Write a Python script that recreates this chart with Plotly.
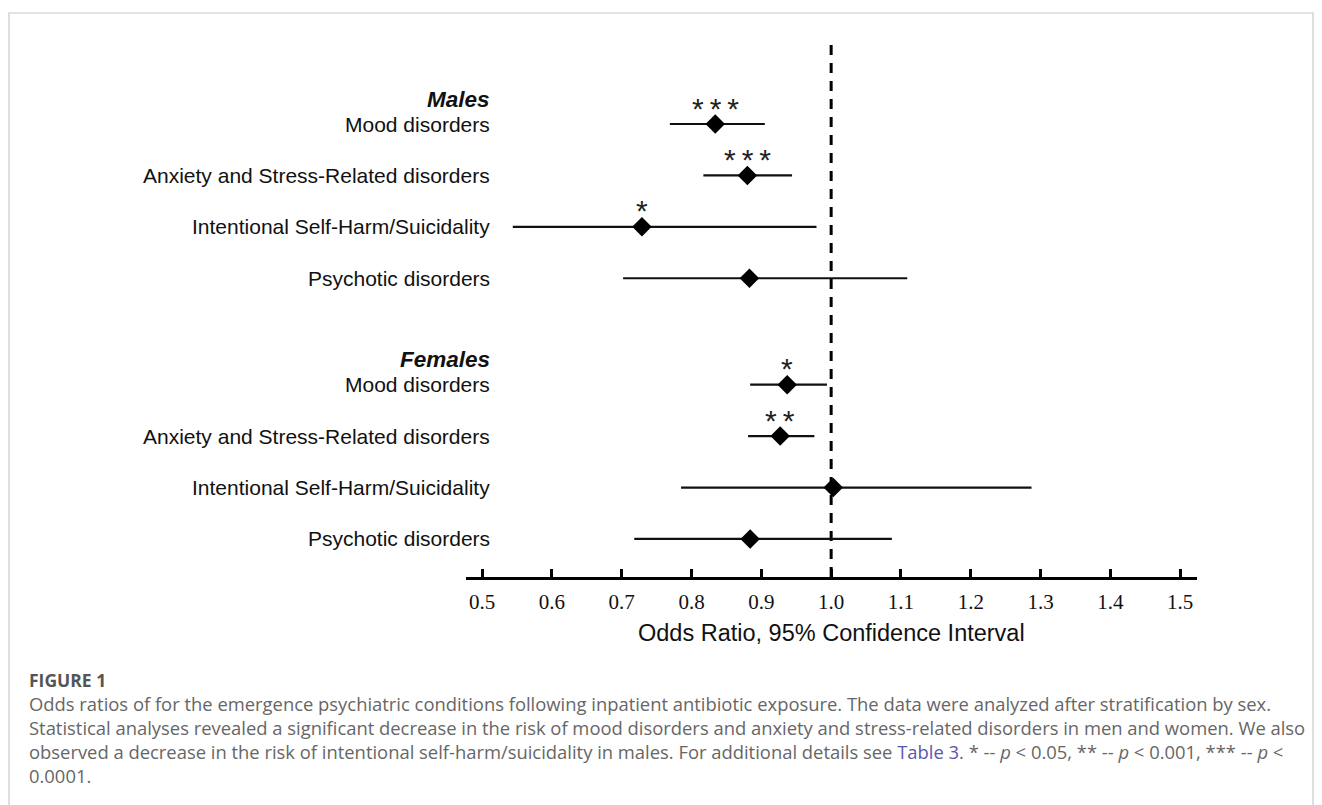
import plotly.graph_objects as go

# ---------------- data ----------------
groups = ["Males", "Females"]
conditions = [
    "Mood disorders",
    "Anxiety and Stress-Related disorders",
    "Intentional Self-Harm/Suicidality",
    "Psychotic disorders",
]
male_or = [0.834, 0.880, 0.729, 0.883]
male_lo = [0.769, 0.817, 0.544, 0.702]
male_hi = [0.905, 0.944, 0.979, 1.109]
male_sig = ["***", "***", "*", ""]

female_or = [0.937, 0.927, 1.003, 0.884]
female_lo = [0.884, 0.881, 0.785, 0.718]
female_hi = [0.994, 0.976, 1.287, 1.087]
female_sig = ["*", "**", "", ""]

tick_vals = [0.5, 0.6, 0.7, 0.8, 0.9, 1.0, 1.1, 1.2, 1.3, 1.4, 1.5]
tick_text = ["0.5", "0.6", "0.7", "0.8", "0.9", "1.0", "1.1", "1.2", "1.3", "1.4", "1.5"]
x_title = "Odds Ratio, 95% Confidence Interval"

caption_head = "FIGURE 1"
caption_lines = [
    "Odds ratios of for the emergence psychiatric conditions following inpatient antibiotic exposure. The data were analyzed after stratification by sex.",
    "Statistical analyses revealed a significant decrease in the risk of mood disorders and anxiety and stress-related disorders in men and women. We also",
    "observed a decrease in the risk of intentional self-harm/suicidality in males. For additional details see "
    "<span style='color:#5a55b0'>Table 3</span>. * -- <i>p</i> &lt; 0.05, ** -- <i>p</i> &lt; 0.001, *** -- <i>p</i> &lt;",
    "0.0001.",
]

# ---------------- layout geometry ----------------
W, H = 1322, 805
OFF = 8  # page body margin in the browser
pw, ph = 731, 533
ml, mt = 466 - OFF, 44 - OFF
mr, mb = W - ml - pw, H - mt - ph
group_base = {"Males": 0.0, "Females": 5.07}

def px_to_paper_x(px):
    return (px - OFF - ml) / pw

def px_to_paper_y(py):
    return 1 - (py - OFF - mt) / ph

fig = go.Figure()

series = {
    "Males": (male_or, male_lo, male_hi, male_sig),
    "Females": (female_or, female_lo, female_hi, female_sig),
}

annotations = []
label_x = px_to_paper_x(492)
for g in groups:
    ors, los, his, sigs = series[g]
    ys = [group_base[g] + i for i in range(len(conditions))]
    fig.add_trace(go.Scatter(
        x=ors, y=ys, mode="markers",
        marker=dict(symbol="diamond", size=15, color="black"),
        error_x=dict(type="data", symmetric=False,
                     array=[h - o for h, o in zip(his, ors)],
                     arrayminus=[o - l for o, l in zip(ors, los)],
                     width=0, thickness=2.2, color="#111111"),
        showlegend=False, hoverinfo="skip",
    ))
    # group header
    annotations.append(dict(
        x=label_x, xref="paper", y=ys[0], yref="y", yshift=25,
        text=f"<b><i>{g}</i></b>", showarrow=False, xanchor="right",
        font=dict(family="Liberation Sans", size=22.5, color="#111111"),
    ))
    for c, yv, o, s in zip(conditions, ys, ors, sigs):
        annotations.append(dict(
            x=label_x, xref="paper", y=yv, yref="y",
            text=c, showarrow=False, xanchor="right",
            font=dict(family="Liberation Sans", size=21, color="#111111"),
        ))
        if s:
            annotations.append(dict(
                x=o, xref="x", y=yv, yref="y", yshift=16,
                text="\u2009".join(s), showarrow=False, xanchor="center",
                font=dict(family="Liberation Sans", size=30, color="#222222"),
            ))

# axis title
annotations.append(dict(
    x=0.5, xref="paper", y=px_to_paper_y(633), yref="paper",
    text=x_title, showarrow=False, xanchor="center", yanchor="middle",
    font=dict(family="Liberation Sans", size=23.5, color="#111111"),
))

# caption (one block so lines share plotly's own line spacing)
caption_text = (
    f"<b><span style='color:#555555;font-size:17.5px'>{caption_head}</span></b><br>"
    + "<br>".join(caption_lines)
)
annotations.append(dict(
    x=px_to_paper_x(27), xref="paper", y=px_to_paper_y(728), yref="paper",
    text=caption_text, showarrow=False, xanchor="left", yanchor="middle", align="left",
    font=dict(family="Open Sans", size=18.4, color="#666666"),
))

shapes = [
    # reference line at OR = 1
    dict(type="line", x0=1.0, x1=1.0, xref="x", y0=0, y1=1, yref="paper",
         line=dict(color="black", width=3, dash="10px,8px"), layer="below"),
    # outer frame
    dict(type="rect", xref="paper", yref="paper",
         x0=px_to_paper_x(9), x1=px_to_paper_x(1313),
         y0=px_to_paper_y(812), y1=px_to_paper_y(13),
         line=dict(color="#c8c8c8", width=1.2), fillcolor="rgba(0,0,0,0)"),
]

fig.update_layout(
    width=W, height=H,
    margin=dict(l=ml, r=mr, t=mt, b=mb),
    paper_bgcolor="white", plot_bgcolor="white",
    xaxis=dict(
        range=[0.477, 1.524], tickvals=tick_vals, ticktext=tick_text,
        showline=True, linecolor="black", linewidth=2.5,
        ticks="inside", ticklen=8, tickwidth=3, tickcolor="black",
        showgrid=False, zeroline=False, ticklabelstandoff=4,
        tickfont=dict(family="Liberation Serif", size=21, color="#111111"),
    ),
    yaxis=dict(range=[8.81, -1.556], visible=False, showgrid=False, zeroline=False),
    annotations=annotations,
    shapes=shapes,
)

fig.write_html("out.html")
